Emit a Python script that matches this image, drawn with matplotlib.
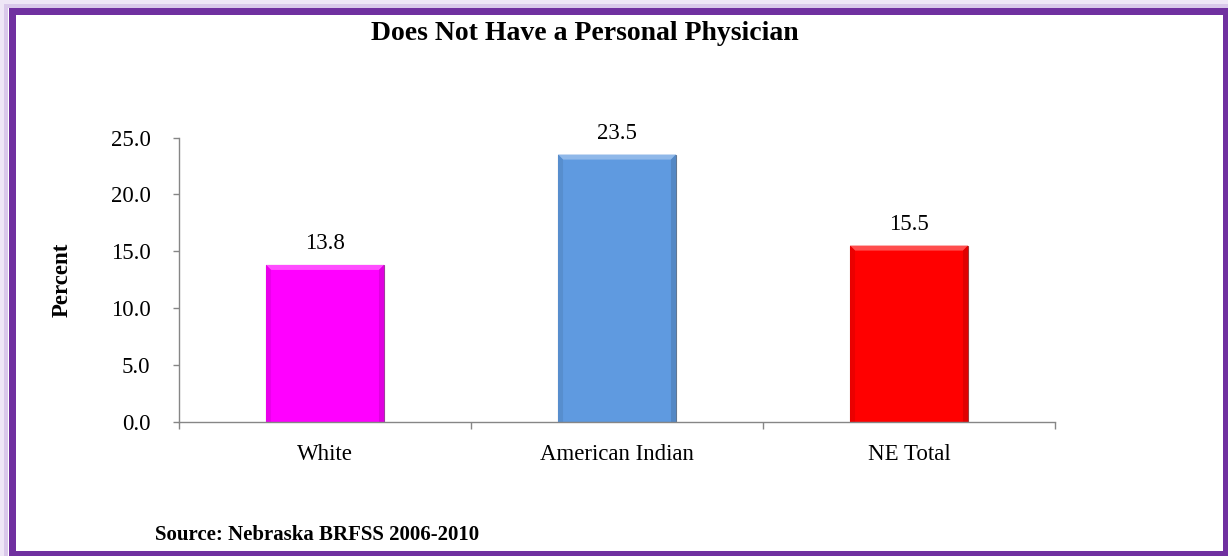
import matplotlib
matplotlib.use("Agg")
import matplotlib.pyplot as plt
from matplotlib.patches import Rectangle, Polygon
from matplotlib.ticker import FixedLocator
from matplotlib.colors import to_rgb

categories = ["White", "American Indian", "NE Total"]
percent = [13.8, 23.5, 15.5]
bar_colors = ["#FF00FF", "#5F9AE0", "#FF0000"]
y_ticks = [0.0, 5.0, 10.0, 15.0, 20.0, 25.0]

plt.rcParams['font.family'] = ['Liberation Serif', 'DejaVu Serif']

W, H = 1228, 556
fig = plt.figure(figsize=(W / 100, H / 100), dpi=100)
fig.patch.set_facecolor("white")


def fx(x):
    return x / W


def fy(y):
    return 1 - y / H


def mix(c, other, t):
    a, b = to_rgb(c), to_rgb(other)
    return tuple(a[i] * (1 - t) + b[i] * t for i in range(3))


# soft lavender glow outside the frame (left and top)
for off, lw, col in [(2, 4, "#EEE6F6"), (6, 4, "#D9C8EA")]:
    fig.patches.append(Rectangle((fx(off), fy(H + 20)), fx(W + 40), fy(off) - fy(H + 20),
                                 transform=fig.transFigure, fill=False,
                                 edgecolor=col, linewidth=lw * 0.72, zorder=0))
# purple frame
fig.patches.append(Rectangle((fx(11.5), fy(554)), fx(1225.5) - fx(11.5), fy(10.5) - fy(554),
                             transform=fig.transFigure, fill=False,
                             edgecolor="#7030A0", linewidth=7 * 0.72, zorder=1))

ax_left, ax_right, ax_top, ax_bottom = 179, 1055, 137.5, 422
ax = fig.add_axes([fx(ax_left), fy(ax_bottom), fx(ax_right) - fx(ax_left), fy(ax_top) - fy(ax_bottom)])
ax.set_facecolor("none")
xpos = list(range(len(categories)))
bar_w = 0.404
bars = ax.bar(xpos, percent, width=bar_w, color=bar_colors,
              edgecolor=[mix(c, "#606060", 0.6) for c in bar_colors],
              linewidth=0.8, zorder=3)

ax.set_xlim(-0.5, len(categories) - 0.5)
ax.set_ylim(y_ticks[0], y_ticks[-1])

# bevelled look: light top facet, slightly darker side facets
px_x = (len(categories)) / (ax_right - ax_left)
px_y = (y_ticks[-1] - y_ticks[0]) / (ax_bottom - ax_top)
dx, dy = 5 * px_x, 5 * px_y
for b, c in zip(bars, bar_colors):
    x0, x1, top = b.get_x(), b.get_x() + b.get_width(), b.get_height()
    ax.add_patch(Polygon([(x0, top), (x1, top), (x1 - dx, top - dy), (x0 + dx, top - dy)],
                         closed=True, facecolor=mix(c, "white", 0.3), edgecolor="none", zorder=4))
    ax.add_patch(Polygon([(x0, 0), (x0, top), (x0 + dx, top - dy), (x0 + dx, 0)],
                         closed=True, facecolor=mix(c, "black", 0.08), edgecolor="none", zorder=4))
    ax.add_patch(Polygon([(x1, 0), (x1, top), (x1 - dx, top - dy), (x1 - dx, 0)],
                         closed=True, facecolor=mix(c, "black", 0.12), edgecolor="none", zorder=4))

spine_col = "#868686"
for s in ["top", "right"]:
    ax.spines[s].set_visible(False)
for s in ["left", "bottom"]:
    ax.spines[s].set_color(spine_col)
    ax.spines[s].set_linewidth(1.0)
    ax.spines[s].set_zorder(5)

ax.set_yticks(y_ticks)
ax.set_yticklabels([f"{v:.1f}" for v in y_ticks])
ax.tick_params(axis="y", direction="out", length=4.5, width=1.0, color=spine_col,
               pad=16, labelsize=16.5)

ax.set_xticks(xpos)
ax.set_xticklabels(categories)
ax.tick_params(axis="x", which="major", length=0, pad=16, labelsize=16.5)
ax.xaxis.set_minor_locator(FixedLocator([i - 0.5 for i in range(len(categories) + 1)]))
ax.tick_params(axis="x", which="minor", direction="out", length=5, width=1.0, color=spine_col)

for b, v in zip(bars, percent):
    ax.annotate(f"{v:.1f}", (b.get_x() + b.get_width() / 2, v),
                xytext=(0, 15.5), textcoords="offset points",
                ha="center", va="center", fontsize=16.5)

fig.text(fx(585), fy(33), "Does Not Have a Personal Physician", ha="center", va="center",
         fontsize=20, fontweight="bold")
fig.text(fx(62), fy(280), "Percent", ha="center", va="center", rotation=90,
         fontsize=16.5, fontweight="bold")
fig.text(fx(155), fy(540), "Source: Nebraska BRFSS 2006-2010", ha="left", va="baseline",
         fontsize=15, fontweight="bold")

fig.savefig("out.png", dpi=100)
